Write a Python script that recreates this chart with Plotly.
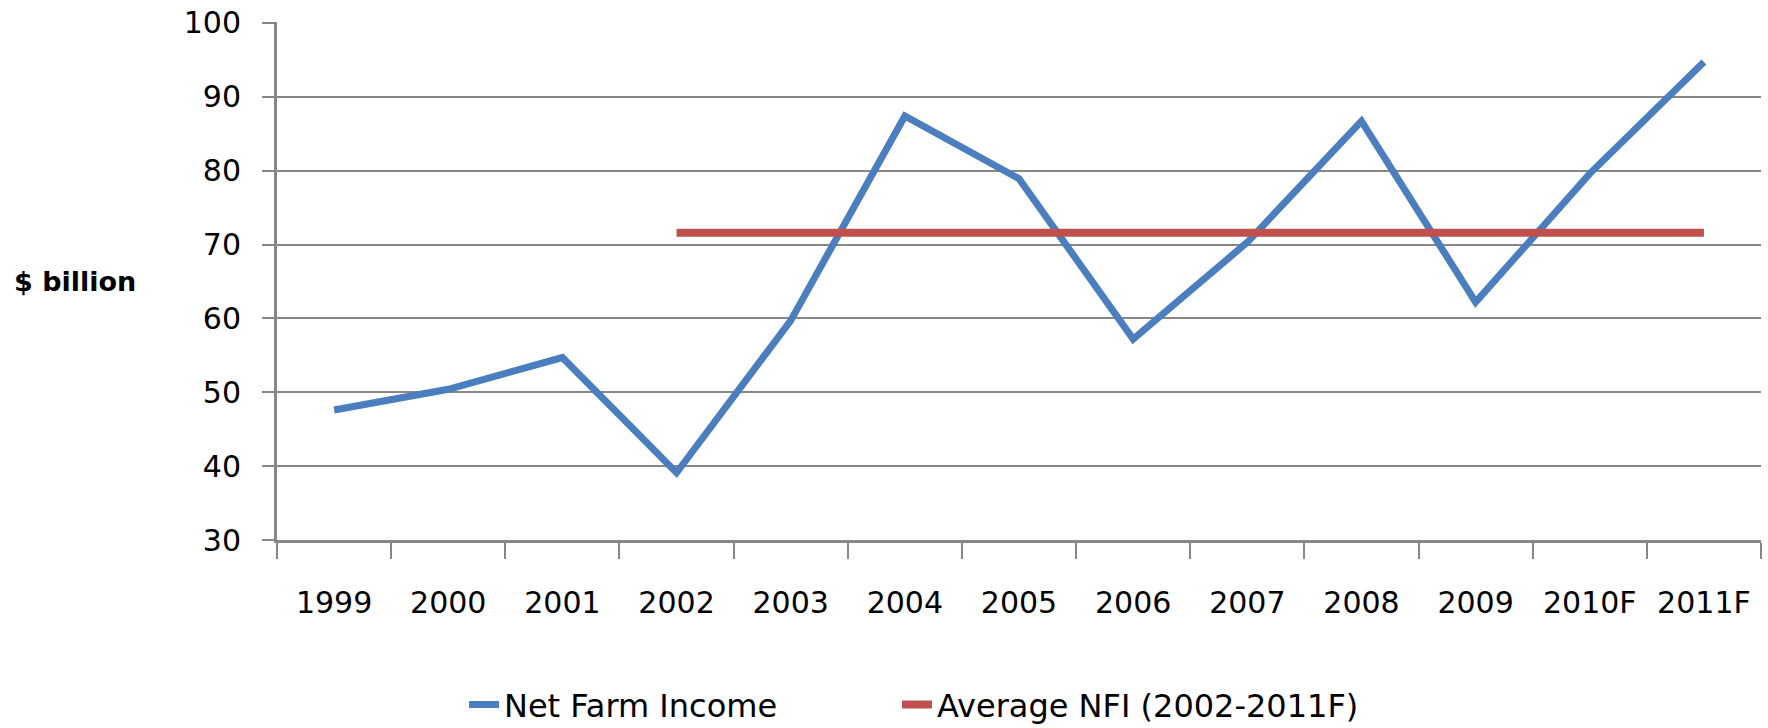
import plotly.graph_objects as go

years = ["1999", "2000", "2001", "2002", "2003", "2004", "2005", "2006",
         "2007", "2008", "2009", "2010F", "2011F"]
net_farm_income = [47.6, 50.4, 54.7, 39.1, 59.7, 87.4, 78.9, 57.2,
                   70.3, 86.7, 62.2, 79.6, 94.7]
avg_years = ["2002", "2003", "2004", "2005", "2006", "2007", "2008",
             "2009", "2010F", "2011F"]
avg_nfi = [71.6, 71.6, 71.6, 71.6, 71.6, 71.6, 71.6, 71.6, 71.6, 71.6]
y_ticks = [30, 40, 50, 60, 70, 80, 90, 100]

FONT = "DejaVu Sans"
GRID = "#878787"

fig = go.Figure()
fig.add_trace(go.Scatter(
    x=years, y=net_farm_income, mode="lines", name="Net Farm Income",
    line=dict(color="#4A7EBF", width=7), legend="legend",
))
fig.add_trace(go.Scatter(
    x=avg_years, y=avg_nfi, mode="lines", name="Average NFI (2002-2011F)",
    line=dict(color="#C0504D", width=8), legend="legend2",
))

legend_common = dict(
    orientation="h", xanchor="left", y=-0.318, yanchor="middle",
    font=dict(family=FONT, size=32, color="black"),
    itemwidth=30, bgcolor="rgba(0,0,0,0)",
)

fig.update_layout(
    width=1768, height=728,
    margin=dict(l=277, r=7, t=22, b=188, autoexpand=False),
    paper_bgcolor="white", plot_bgcolor="white",
    font=dict(family=FONT, size=30, color="black"),
    showlegend=True,
    legend=dict(x=0.126, **legend_common),
    legend2=dict(x=0.4178, **legend_common),
    xaxis=dict(
        type="category", categoryorder="array", categoryarray=years,
        range=[-0.5, 12.5], automargin=False,
        showgrid=False, showline=True, linecolor=GRID, linewidth=3,
        ticks="outside", tickson="boundaries", ticklen=16, tickwidth=2,
        tickcolor=GRID, ticklabelstandoff=34,
        tickfont=dict(family=FONT, size=30, color="black"),
        zeroline=False, fixedrange=True,
    ),
    yaxis=dict(
        range=[30, 100.12], tickvals=y_ticks, ticktext=[str(v) for v in y_ticks],
        automargin=False,
        showgrid=True, gridcolor=GRID, gridwidth=2,
        showline=True, linecolor=GRID, linewidth=3,
        ticks="outside", ticklen=12, tickwidth=2, tickcolor=GRID,
        ticklabelstandoff=15,
        tickfont=dict(family=FONT, size=30, color="black"),
        zeroline=False, fixedrange=True,
    ),
    annotations=[dict(
        text="<b>$ billion</b>", xref="paper", yref="paper",
        x=-0.1785, y=0.4993, xanchor="left", yanchor="middle",
        showarrow=False, font=dict(family=FONT, size=27, color="black"),
    )],
)

fig.write_html(
    "out.html",
    config={"displayModeBar": False},
    post_script="document.body.style.margin='0';document.body.style.padding='0';",
)
